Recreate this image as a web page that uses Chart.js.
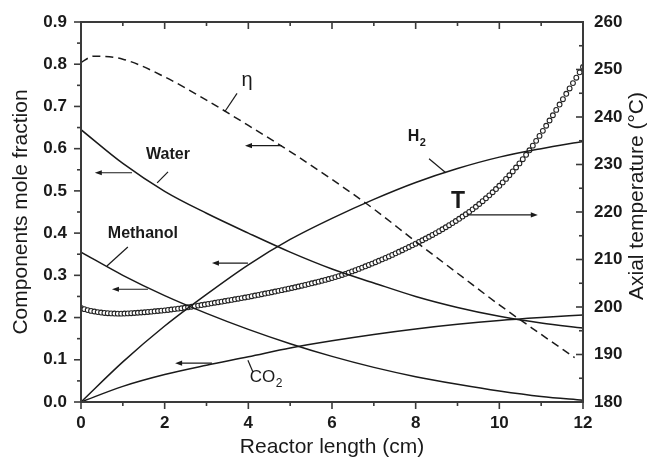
<!DOCTYPE html>
<html>
<head>
<meta charset="utf-8">
<script src="https://cdn.jsdelivr.net/npm/chart.js@4.4.1/dist/chart.umd.min.js"></script>
<style>
  html, body { margin: 0; padding: 0; background: #fff; }
  #reactorChart { display: block; }
</style>
</head>
<body>
<canvas id="reactorChart" width="649" height="460"></canvas>
<script>
// Reactor length (cm) for the solid curves
const lengthCm = [0, 1, 2, 3, 4, 5, 6, 7, 8, 9, 10, 11, 12];
// Mole fractions (left axis)
const water    = [0.645, 0.565, 0.499, 0.447, 0.400, 0.355, 0.315, 0.282, 0.250, 0.224, 0.203, 0.187, 0.175];
const methanol = [0.355, 0.300, 0.252, 0.210, 0.172, 0.138, 0.108, 0.082, 0.060, 0.042, 0.026, 0.013, 0.004];
const hydrogen = [0.000, 0.095, 0.180, 0.255, 0.325, 0.385, 0.435, 0.480, 0.520, 0.553, 0.580, 0.600, 0.617];
const co2      = [0.000, 0.037, 0.065, 0.087, 0.107, 0.128, 0.145, 0.160, 0.173, 0.184, 0.193, 0.200, 0.206];
// Conversion eta (dashed)
const etaCm = [0, 0.3, 1, 2, 3, 4, 5, 6, 7, 8, 9, 10, 11, 11.8];
const eta   = [0.804, 0.819, 0.812, 0.770, 0.715, 0.655, 0.593, 0.527, 0.457, 0.380, 0.305, 0.230, 0.160, 0.105];
// Axial temperature (right axis), one circle every 0.08 cm
const tempStep = 0.08;
const temperature = [
  199.80, 199.55, 199.35, 199.18, 199.05, 198.93, 198.83, 198.75, 198.69, 198.65,
  198.62, 198.60, 198.60, 198.62, 198.65, 198.69, 198.74, 198.79, 198.84, 198.90,
  198.96, 199.02, 199.09, 199.16, 199.23, 199.30, 199.38, 199.47, 199.56, 199.65,
  199.74, 199.84, 199.94, 200.05, 200.17, 200.29, 200.41, 200.53, 200.65, 200.77,
  200.89, 201.01, 201.13, 201.25, 201.38, 201.50, 201.62, 201.75, 201.87, 202.00,
  202.13, 202.27, 202.41, 202.55, 202.69, 202.83, 202.97, 203.11, 203.25, 203.40,
  203.55, 203.70, 203.85, 204.00, 204.16, 204.32, 204.48, 204.65, 204.82, 204.99,
  205.16, 205.34, 205.52, 205.70, 205.89, 206.08, 206.29, 206.51, 206.74, 206.98,
  207.23, 207.49, 207.75, 208.02, 208.29, 208.57, 208.85, 209.14, 209.43, 209.73,
  210.03, 210.34, 210.65, 210.97, 211.29, 211.62, 211.95, 212.29, 212.63, 212.98,
  213.33, 213.69, 214.05, 214.42, 214.79, 215.17, 215.56, 215.96, 216.37, 216.79,
  217.22, 217.66, 218.11, 218.57, 219.04, 219.52, 220.03, 220.56, 221.11, 221.68,
  222.27, 222.88, 223.51, 224.16, 224.83, 225.52, 226.23, 226.97, 227.74, 228.54,
  229.37, 230.23, 231.12, 232.04, 232.99, 233.97, 234.98, 236.02, 237.08, 238.16,
  239.26, 240.37, 241.49, 242.62, 243.75, 244.88, 246.01, 247.14, 248.27, 249.40,
  250.53
];
// Tick labels
const xTicks = [0, 2, 4, 6, 8, 10, 12];
const yTicks = [0, 0.1, 0.2, 0.3, 0.4, 0.5, 0.6, 0.7, 0.8, 0.9];
const tTicks = [180, 190, 200, 210, 220, 230, 240, 250, 260];

const ink = '#1a1a1a';
const fontFamily = "'Liberation Sans', Arial, sans-serif";

function pairs(xs, ys) {
  return ys.map((v, i) => ({ x: xs[i], y: v }));
}
const tempData = temperature.map((v, i) => ({ x: i * tempStep, y: v }));

// Labels, leader lines and arrows (data units of x / left axis)
const curveLabels = [
  { text: 'Water', x: 2.08, y: 0.586, bold: true, size: 16 },
  { text: 'Methanol', x: 1.48, y: 0.400, bold: true, size: 16 },
  { text: 'η', x: 3.97, y: 0.762, bold: false, size: 20 },
  { text: 'H', sub: '2', x: 8.02, y: 0.628, bold: true, size: 16 },
  { text: 'CO', sub: '2', x: 4.42, y: 0.058, bold: false, size: 17 },
  { text: 'T', x: 9.01, y: 0.474, bold: true, size: 23 }
];
const leaders = [
  [2.08, 0.545, 1.82, 0.519],
  [1.12, 0.367, 0.62, 0.322],
  [3.73, 0.731, 3.44, 0.688],
  [8.32, 0.576, 8.72, 0.543],
  [3.99, 0.099, 4.11, 0.071]
];
// tail x, head x, y
const arrows = [
  [1.22, 0.33, 0.543],
  [1.60, 0.74, 0.267],
  [4.80, 3.92, 0.607],
  [3.99, 3.13, 0.329],
  [3.13, 2.25, 0.092],
  [9.22, 10.92, 0.443]
];

const framePlugin = {
  id: 'framePlugin',
  afterDatasetsDraw(chart) {
    const ctx = chart.ctx;
    const a = chart.chartArea;
    const sx = chart.scales.x, sy = chart.scales.y, st = chart.scales.y1;
    ctx.save();
    ctx.strokeStyle = '#3a3a3a';
    ctx.lineWidth = 1.6;
    // x ticks: bottom outward, top inward
    for (let v = 0; v <= 12; v += 1) {
      const px = sx.getPixelForValue(v);
      const len = v % 2 === 0 ? 7 : 4;
      ctx.beginPath();
      ctx.moveTo(px, a.bottom); ctx.lineTo(px, a.bottom + len);
      ctx.moveTo(px, a.top); ctx.lineTo(px, a.top + len);
      ctx.stroke();
    }
    // left ticks outward
    for (let i = 0; i <= 18; i++) {
      const py = sy.getPixelForValue(i * 0.05);
      const len = i % 2 === 0 ? 7 : 4;
      ctx.beginPath();
      ctx.moveTo(a.left, py); ctx.lineTo(a.left - len, py);
      ctx.stroke();
    }
    // right ticks inward
    for (let v = 180; v <= 260; v += 5) {
      const py = st.getPixelForValue(v);
      const len = v % 10 === 0 ? 7 : 4;
      ctx.beginPath();
      ctx.moveTo(a.right, py); ctx.lineTo(a.right - len, py);
      ctx.stroke();
    }
    ctx.lineWidth = 2;
    ctx.strokeRect(a.left, a.top, a.right - a.left, a.bottom - a.top);

    // right axis title, reading bottom to top
    ctx.save();
    ctx.translate(637, (a.top + a.bottom) / 2 - 16);
    ctx.rotate(-Math.PI / 2);
    ctx.font = '21px ' + fontFamily;
    ctx.fillStyle = ink;
    ctx.textAlign = 'center';
    ctx.textBaseline = 'middle';
    ctx.fillText('Axial temperature (°C)', 0, 0);
    ctx.restore();

    // leaders
    ctx.strokeStyle = ink;
    ctx.lineWidth = 1.2;
    leaders.forEach(l => {
      ctx.beginPath();
      ctx.moveTo(sx.getPixelForValue(l[0]), sy.getPixelForValue(l[1]));
      ctx.lineTo(sx.getPixelForValue(l[2]), sy.getPixelForValue(l[3]));
      ctx.stroke();
    });
    // arrows
    ctx.fillStyle = ink;
    arrows.forEach(ar => {
      const x0 = sx.getPixelForValue(ar[0]);
      const x1 = sx.getPixelForValue(ar[1]);
      const py = sy.getPixelForValue(ar[2]);
      const dir = x1 > x0 ? 1 : -1;
      ctx.beginPath();
      ctx.moveTo(x0, py); ctx.lineTo(x1 - dir * 4, py);
      ctx.stroke();
      ctx.beginPath();
      ctx.moveTo(x1, py);
      ctx.lineTo(x1 - dir * 7, py - 2.6);
      ctx.lineTo(x1 - dir * 7, py + 2.6);
      ctx.closePath();
      ctx.fill();
    });
    // curve labels
    ctx.textBaseline = 'middle';
    curveLabels.forEach(lb => {
      const px = sx.getPixelForValue(lb.x);
      const py = sy.getPixelForValue(lb.y);
      const mainFont = (lb.bold ? 'bold ' : '') + lb.size + 'px ' + fontFamily;
      const subFont = (lb.bold ? 'bold ' : '') + Math.round(lb.size * 0.68) + 'px ' + fontFamily;
      ctx.font = mainFont;
      const w = ctx.measureText(lb.text).width;
      let subW = 0;
      if (lb.sub) {
        ctx.font = subFont;
        subW = ctx.measureText(lb.sub).width;
      }
      const start = px - (w + subW) / 2;
      ctx.font = mainFont;
      ctx.textAlign = 'left';
      ctx.fillText(lb.text, start, py);
      if (lb.sub) {
        ctx.font = subFont;
        ctx.fillText(lb.sub, start + w + 0.5, py + 6);
      }
    });
    ctx.restore();
  }
};

const tickFont = { family: fontFamily, size: 17, weight: 'bold' };
const titleFont = { family: fontFamily, size: 21, weight: 'normal' };

const lineStyle = {
  borderColor: ink,
  borderWidth: 1.5,
  pointRadius: 0,
  fill: false,
  yAxisID: 'y',
  cubicInterpolationMode: 'monotone'
};

new Chart(document.getElementById('reactorChart'), {
  type: 'line',
  data: {
    datasets: [
      Object.assign({ label: 'Water', data: pairs(lengthCm, water) }, lineStyle),
      Object.assign({ label: 'Methanol', data: pairs(lengthCm, methanol) }, lineStyle),
      Object.assign({ label: 'H2', data: pairs(lengthCm, hydrogen) }, lineStyle),
      Object.assign({ label: 'CO2', data: pairs(lengthCm, co2) }, lineStyle),
      {
        label: 'eta',
        data: pairs(etaCm, eta),
        borderColor: ink,
        borderWidth: 1.5,
        borderDash: [8, 5],
        pointRadius: 0,
        cubicInterpolationMode: 'monotone',
        yAxisID: 'y'
      },
      {
        label: 'T',
        data: tempData,
        yAxisID: 'y1',
        showLine: false,
        pointRadius: 2.4,
        pointBorderWidth: 1.1,
        pointBorderColor: '#222',
        pointBackgroundColor: '#fff'
      }
    ]
  },
  options: {
    responsive: false,
    animation: false,
    layout: { padding: { top: 22, left: 0, right: 0, bottom: 0 } },
    plugins: { legend: { display: false }, tooltip: { enabled: false } },
    scales: {
      x: {
        type: 'linear',
        min: 0, max: 12,
        afterBuildTicks: s => { s.ticks = xTicks.map(v => ({ value: v })); },
        afterFit: s => { s.height = 58; },
        grid: { display: false },
        border: { display: false },
        ticks: { font: tickFont, color: ink, padding: 3, maxRotation: 0 },
        title: { display: true, text: 'Reactor length (cm)', font: titleFont, color: ink, padding: { top: 0, bottom: 0 } }
      },
      y: {
        position: 'left',
        min: 0, max: 0.9,
        afterBuildTicks: s => { s.ticks = yTicks.map(v => ({ value: v })); },
        afterFit: s => { s.width = 81; },
        grid: { display: false },
        border: { display: false },
        ticks: { font: tickFont, color: ink, padding: 6, callback: v => v.toFixed(1) },
        title: { display: true, text: 'Components mole fraction', font: titleFont, color: ink, padding: { top: 9, bottom: 0 } }
      },
      y1: {
        position: 'right',
        min: 180, max: 260,
        afterBuildTicks: s => { s.ticks = tTicks.map(v => ({ value: v })); },
        afterFit: s => { s.width = 66; },
        grid: { display: false },
        border: { display: false },
        ticks: { font: tickFont, color: ink, padding: 3 },
        title: { display: false }
      }
    }
  },
  plugins: [framePlugin]
});
</script>
</body>
</html>
